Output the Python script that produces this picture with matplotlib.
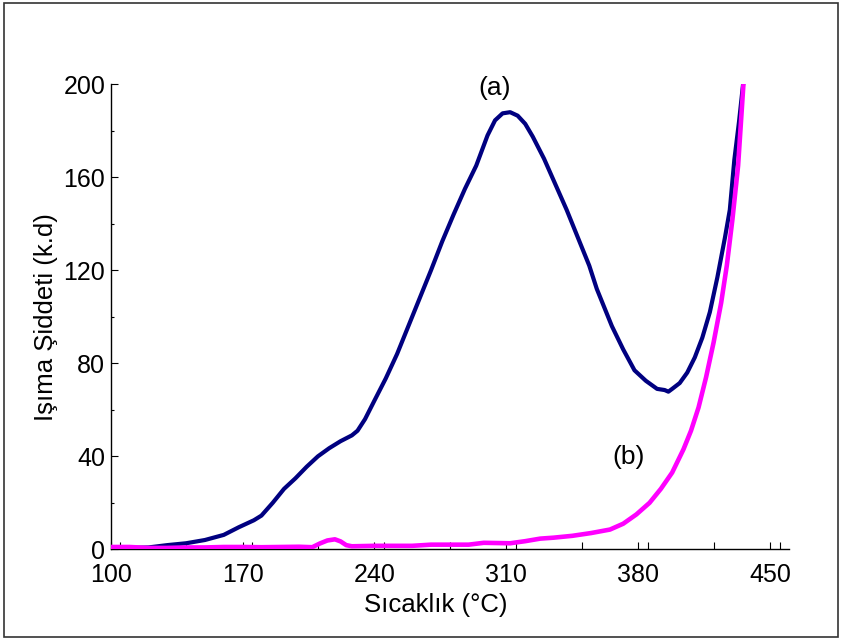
import matplotlib
matplotlib.use("Agg")
import matplotlib.pyplot as plt
from matplotlib.patches import Rectangle
from matplotlib.ticker import MultipleLocator, FixedLocator

plt.rcParams['font.family'] = ['Liberation Sans', 'DejaVu Sans']

# Glow curve (a)
temp_a = [100, 110, 120, 130, 140, 150, 160, 168, 176, 180, 186, 192, 198,
          204, 210, 216, 222, 228, 231, 235, 240, 246, 252, 258, 264, 270,
          276, 282, 288, 294, 300, 304, 308, 312, 316, 320, 324, 330, 336,
          342, 348, 354, 358, 362, 366, 372, 378, 384, 390, 394, 396, 398,
          402, 406, 410, 414, 418, 422, 426, 428.6, 431, 433.5, 435.6]
int_a = [0.5, 0.6, 0.8, 1.8, 2.6, 4.0, 6.2, 9.5, 12.5, 14.5, 20, 26, 30.5,
         35.5, 40, 43.5, 46.5, 49, 51, 56, 64, 73.5, 84, 96, 108, 120,
         132.5, 144, 155, 165, 178, 184.5, 187.5, 188, 186.5, 183, 177.5,
         168, 157, 146, 134, 122, 112, 104, 96, 86, 77, 72.5, 69, 68.5,
         67.8, 69, 71.5, 76, 82.5, 91, 102, 117, 134, 146, 167.5, 184, 199.7]

# Glow curve (b)
temp_b = [100, 110, 120, 130, 140, 150, 160, 170, 180, 190, 200, 207, 211,
          215, 219, 222, 225, 228, 240, 250, 260, 270, 280, 290, 298, 305,
          312, 320, 328, 335, 345, 355, 365, 372, 379, 386, 392, 398, 404,
          408, 412, 416, 420, 424, 427, 430, 433, 435.8]
int_b = [1.0, 1.0, 0.6, 0.6, 0.8, 0.8, 1.0, 1.0, 0.9, 1.0, 1.1, 0.9, 2.5,
         3.8, 4.3, 3.4, 1.8, 1.3, 1.5, 1.5, 1.5, 2.0, 2.0, 2.0, 2.8, 2.7,
         2.6, 3.5, 4.6, 5.0, 5.8, 7.0, 8.5, 11, 15, 20, 26, 33, 43,
         51, 61, 74, 89, 106, 122, 142, 165, 199.7]

x_major = [100, 170, 240, 310, 380, 450]
y_major = [0, 40, 80, 120, 160, 200]

fig = plt.figure(figsize=(8.45, 6.4), dpi=100)
ax = fig.add_axes([0.131, 0.1417, 0.8027, 0.7266])

ax.plot(temp_a, int_a, color='#000080', lw=3.0, solid_joinstyle='round', zorder=2)
ax.plot(temp_b, int_b, color='#FF00FF', lw=3.3, solid_joinstyle='round', zorder=3)

ax.set_xlim(100, 460)
ax.set_ylim(0, 200)

ax.xaxis.set_major_locator(FixedLocator(x_major))
ax.xaxis.set_minor_locator(MultipleLocator(35))
ax.yaxis.set_major_locator(FixedLocator(y_major))
ax.yaxis.set_minor_locator(MultipleLocator(20))

ax.tick_params(axis='x', which='both', direction='in', length=5, width=0.8,
               labelsize=18, pad=9.5)
ax.tick_params(axis='y', which='major', direction='in', length=5, width=0.8,
               labelsize=18, pad=4)
ax.tick_params(axis='y', which='minor', direction='in', length=2.5, width=0.8)

for side in ('top', 'right'):
    ax.spines[side].set_visible(False)
for side in ('left', 'bottom'):
    ax.spines[side].set_linewidth(1.0)

ax.set_xlabel('Sıcaklık (°C)', fontsize=18.5)
ax.xaxis.set_label_coords(0.479, -0.094)
ax.set_ylabel('Işıma Şiddeti (k.d)', fontsize=18.5, labelpad=4)

ax.text(304, 198.5, '(a)', fontsize=19, ha='center', va='center')
ax.text(374.7, 39.5, '(b)', fontsize=19, ha='center', va='center')

# outer frame
fig.patches.append(Rectangle((4 / 845, 3 / 640), 834 / 845, 634 / 640,
                             transform=fig.transFigure, fill=False,
                             edgecolor='#333333', lw=1.2))

fig.savefig('out.png', dpi=100)
